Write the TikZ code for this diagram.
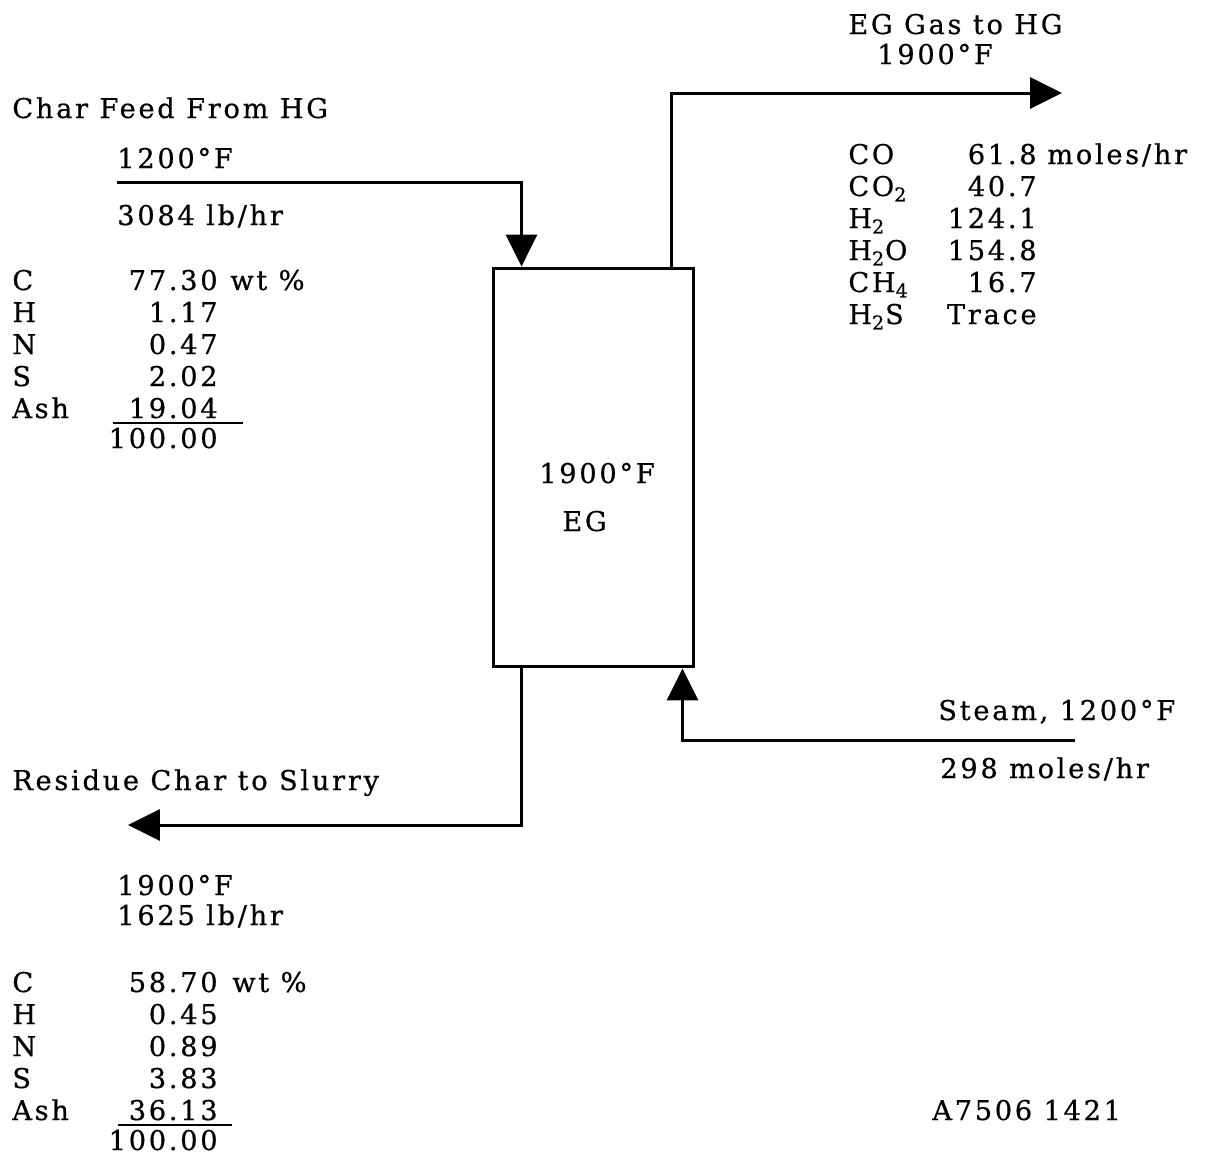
\documentclass[tikz,border=0pt]{standalone}
\usepackage{fontspec}
\setmainfont{DejaVu Serif}[LetterSpace=10, FakeBold=0.6]
\usetikzlibrary{arrows.meta}

\tikzset{
  txt/.style={font=\fontsize{15.5}{18}\selectfont, inner sep=0pt, anchor=base west},
  val/.style={txt, anchor=base east},
  flow/.style={line width=1.7pt},
  tip/.style={-{Triangle[length=0.64cm,width=0.62cm]}},
}

\begin{document}
\begin{tikzpicture}[x=0.02cm, y=-0.02cm]
  \useasboundingbox (0,0) rectangle (1210,1154);

  % Reactor
  \node[draw, flow, minimum width=4.02cm, minimum height=7.98cm, inner sep=0pt] (eg) at (593.5,467.5) {};
  \node[txt, anchor=base] (egtemp) at (597,483) {1900°F};
  \node[txt] (eglabel) at (562,531) {EG};

  % Char feed (top left)
  \node[txt] (feedlabel) at (12,118) {Char Feed From HG};
  \node[txt] (feedtemp) at (117,168) {1200°F};
  \node[txt] (feedrate) at (117,225) {3084 lb/hr};
  \foreach \el/\num [count=\i] in {C/77.30, H/1.17, N/0.47, S/2.02, Ash/19.04} {
    \node[txt] (feedel\i) at (12,258+32*\i) {\el};
    \node[val] (feedval\i) at (218,258+32*\i) {\num};
  }
  \node[txt] (feedunit) at (230,290) {wt \%};
  \draw[line width=1.4pt] (113,423) -- (243,423);
  \node[val] (feedsum) at (218,448) {100.00};

  % Gas out (top right)
  \node[txt] (gaslabel) at (848,34) {EG Gas to HG};
  \node[txt] (gastemp) at (877,64) {1900°F};
  \foreach \el/\num [count=\i] in {CO/61.8, CO\textsubscript{2}/40.7, H\textsubscript{2}/124.1,
      H\textsubscript{2}O/154.8, CH\textsubscript{4}/16.7, H\textsubscript{2}S/Trace} {
    \node[txt] (gasel\i) at (848,132+32*\i) {\el};
    \node[val] (gasval\i) at (1037,132+32*\i) {\num};
  }
  \node[txt] (gasunit) at (1047,164) {moles/hr};

  % Residue (bottom left)
  \node[txt] (reslabel) at (12,790) {Residue Char to Slurry};
  \node[txt] (restemp) at (117,895) {1900°F};
  \node[txt] (resrate) at (117,925) {1625 lb/hr};
  \foreach \el/\num [count=\i] in {C/58.70, H/0.45, N/0.89, S/3.83, Ash/36.13} {
    \node[txt] (resel\i) at (12,960+32*\i) {\el};
    \node[val] (resval\i) at (218,960+32*\i) {\num};
  }
  \node[txt] (resunit) at (232,992) {wt \%};
  \draw[line width=1.4pt] (118,1125) -- (232,1125);
  \node[val] (ressum) at (218,1150) {100.00};

  % Steam (right)
  \node[txt] (steamlabel) at (938,720) {Steam, 1200°F};
  \node[txt] (steamrate) at (940,778) {298 moles/hr};

  \node[txt] (drawno) at (932,1120) {A7506 1421};

  % Streams
  \coordinate (feedstart) at (117,182);
  \coordinate (gasend) at (1062,93);
  \coordinate (resend) at (128,825);
  \coordinate (steamstart) at (1075,740);
  \draw[flow, tip] (feedstart) -| ([xshift=0.6cm]eg.north west);
  \draw[flow, tip] ([xshift=-0.48cm]eg.north east) |- (gasend);
  \draw[flow, tip] ([xshift=0.6cm]eg.south west) |- (resend);
  \draw[flow, tip] (steamstart) -| ([xshift=-0.26cm]eg.south east);
\end{tikzpicture}
\end{document}
